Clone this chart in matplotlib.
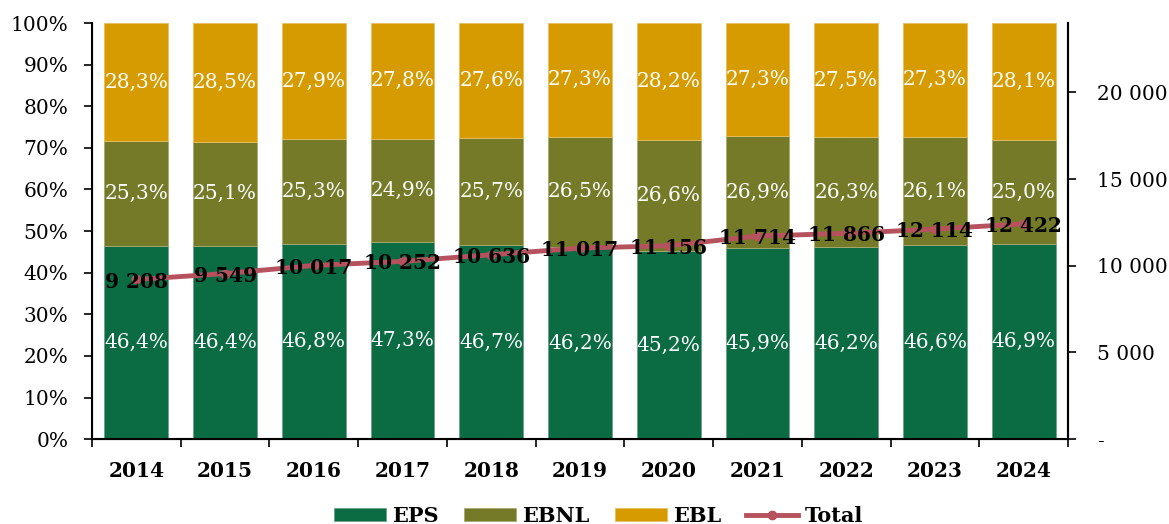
import numpy as np
import matplotlib.pyplot as plt
from matplotlib.ticker import FuncFormatter, MultipleLocator

plt.rcParams['font.family'] = ['DejaVu Serif']

years = ['2014', '2015', '2016', '2017', '2018', '2019', '2020', '2021', '2022', '2023', '2024']
eps = [46.4, 46.4, 46.8, 47.3, 46.7, 46.2, 45.2, 45.9, 46.2, 46.6, 46.9]
ebnl = [25.3, 25.1, 25.3, 24.9, 25.7, 26.5, 26.6, 26.9, 26.3, 26.1, 25.0]
ebl = [28.3, 28.5, 27.9, 27.8, 27.6, 27.3, 28.2, 27.3, 27.5, 27.3, 28.1]
total = [9208, 9549, 10017, 10252, 10636, 11017, 11156, 11714, 11866, 12114, 12422]

c_eps = '#0B6B43'
c_ebnl = '#747A28'
c_ebl = '#D59B00'
c_tot = '#B5525E'


def fr(v):
    return f"{v:.1f}".replace('.', ',') + '%'


def thousands(v):
    return f"{int(round(v)):,}".replace(',', ' ')


fig, ax = plt.subplots(figsize=(11.69, 5.24), dpi=100)
fig.subplots_adjust(left=0.0787, right=0.9136, top=0.956, bottom=0.162)

x = np.arange(len(years))
w = 0.72
b1 = ax.bar(x, eps, w, color=c_eps, edgecolor='#6FA088', linewidth=0.6, label='EPS')
b2 = ax.bar(x, ebnl, w, bottom=eps, color=c_ebnl, edgecolor='#A8AC70', linewidth=0.6, label='EBNL')
bot3 = np.array(eps) + np.array(ebnl)
b3 = ax.bar(x, ebl, w, bottom=bot3, color=c_ebl, edgecolor='#E8C060', linewidth=0.6, label='EBL')

for i in range(len(years)):
    ax.text(x[i], eps[i] / 2, fr(eps[i]), ha='center', va='center', color='white', fontsize=14.5)
    ax.text(x[i], eps[i] + ebnl[i] / 2, fr(ebnl[i]), ha='center', va='center', color='white', fontsize=14.5)
    ax.text(x[i], bot3[i] + ebl[i] / 2, fr(ebl[i]), ha='center', va='center', color='white', fontsize=14.5)

ax.set_ylim(0, 100)
ax.set_xlim(-0.5, len(years) - 0.5)
ax.yaxis.set_major_locator(MultipleLocator(10))
ax.yaxis.set_major_formatter(FuncFormatter(lambda v, p: f"{int(v)}%"))
ax.set_xticks(x)
ax.set_xticklabels(years, fontweight='bold', fontsize=14.5)
ax.set_xticks(np.arange(-0.5, len(years)), minor=True)
ax.tick_params(axis='x', which='major', length=0, pad=16)
ax.tick_params(axis='x', which='minor', length=6, width=1.2)
ax.tick_params(axis='y', labelsize=14.5, length=6, width=1.2, pad=11)
ax.spines['top'].set_visible(False)
for s in ['left', 'bottom', 'right']:
    ax.spines[s].set_linewidth(1.5)

ax2 = ax.twinx()
ln, = ax2.plot(x, total, color=c_tot, linewidth=3.5, marker='o', markersize=6, label='Total')
for i in range(len(years)):
    ax2.text(x[i], total[i] - 120, thousands(total[i]), ha='center', va='center',
             fontsize=14.5, fontweight='bold', color='black')
ax2.set_ylim(0, 24000)
ax2.set_yticks([0, 5000, 10000, 15000, 20000])
ax2.yaxis.set_major_formatter(FuncFormatter(lambda v, p: '-' if v == 0 else thousands(v)))
ax2.tick_params(axis='y', labelsize=14.5, length=6, width=1.2, pad=15)
ax2.spines['top'].set_visible(False)
ax2.spines['right'].set_linewidth(1.5)

fig.legend(handles=[b1, b2, b3, ln], labels=['EPS', 'EBNL', 'EBL', 'Total'],
           loc='center', ncol=4, frameon=False, bbox_to_anchor=(0.512, 0.015),
           prop={'weight': 'bold', 'size': 15}, handlelength=2.5, handleheight=0.58,
           columnspacing=1.2, handletextpad=0.3, borderpad=0)

fig.savefig('out.png', dpi=100)
